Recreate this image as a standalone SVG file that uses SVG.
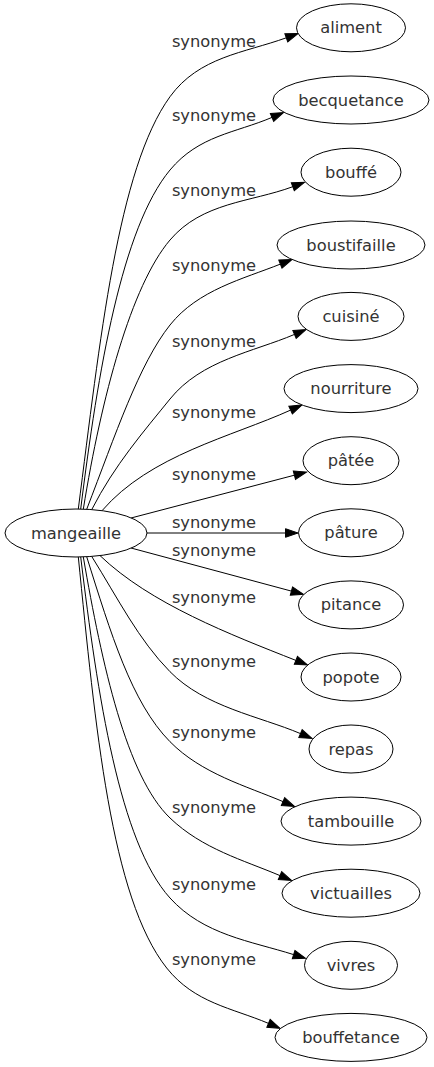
<svg xmlns="http://www.w3.org/2000/svg" width="434" height="1067" viewBox="0 0 434 1067">
<style>
  .node ellipse { fill: #ffffff; stroke: #000000; stroke-width: 1; }
  text { font-family: "DejaVu Sans", "Liberation Sans", sans-serif; font-size: 16.3px; fill: #333333; text-anchor: middle; }
  .edge path { fill: none; stroke: #000000; stroke-width: 1; marker-end: url(#arr); }
</style>
<defs>
  <marker id="arr" markerUnits="userSpaceOnUse" markerWidth="12.5" markerHeight="8.6" viewBox="0 0 12.5 8.6" refX="0" refY="4.3" orient="auto" overflow="visible">
    <path d="M0,0 L12.5,4.3 L0,8.6 z" fill="#000000" stroke="#000000" stroke-width="1"/>
  </marker>
</defs>
<rect width="434" height="1067" fill="#ffffff"/>
<g id="connectors">
  <g class="edge" id="e-aliment"><path d="M78.3,509 C100,340.4 117.8,168.7 170,96.7 C199,56.7 244,53 286.3,37.8"/><text x="214" y="46.5">synonyme</text></g>
  <g class="edge" id="e-becquetance"><path d="M80.7,509.1 C98,370 122,227.8 170,170 C198.8,135.4 235.2,133 272,117.4"/><text x="214" y="121">synonyme</text></g>
  <g class="edge" id="e-bouffe"><path d="M83.3,509.2 C101.5,396.5 131.3,285.6 170,240 C202.3,202 250.6,202.3 292.8,186.7"/><text x="214" y="195.5">synonyme</text></g>
  <g class="edge" id="e-boustifaille"><path d="M86.7,509.3 C115.5,434.6 139,364 170,325 C197.9,289.9 243.2,278.9 280.4,264.1"/><text x="214" y="271">synonyme</text></g>
  <g class="edge" id="e-cuisine"><path d="M91.7,509.7 C114.2,465.3 144.8,430.2 170,399 C201.5,360 253.1,352 294.5,334.4"/><text x="214" y="346.5">synonyme</text></g>
  <g class="edge" id="e-nourriture"><path d="M102,510.7 C150,455 231.5,436.8 290.6,410.1"/><text x="214" y="418">synonyme</text></g>
  <g class="edge" id="e-patee"><path d="M131,518 L294.4,475.2"/><text x="214" y="480">synonyme</text></g>
  <g class="edge" id="e-pature"><path d="M147,533 L285.5,533"/><text x="214" y="528">synonyme</text></g>
  <g class="edge" id="e-pitance"><path d="M131,548 L291.4,591.1"/><text x="214" y="555.5">synonyme</text></g>
  <g class="edge" id="e-popote"><path d="M100,555.6 C150.4,603.9 230.8,634.7 295.9,660.4"/><text x="214" y="603">synonyme</text></g>
  <g class="edge" id="e-repas"><path d="M91.7,556.4 C118.2,598.9 138.5,639.7 170,671.7 C205,707.2 259.1,716.1 300.5,733.6"/><text x="214" y="666.5">synonyme</text></g>
  <g class="edge" id="e-tambouille"><path d="M86.7,556.7 C110.7,633 131.5,702.7 170,741.7 C201.5,773.7 246.2,786 283,801.6"/><text x="214" y="738">synonyme</text></g>
  <g class="edge" id="e-victuailles"><path d="M83.3,556.9 C102,665.3 126.8,776.6 170,818 C202.4,849 243.2,860 280,875.6"/><text x="214" y="813">synonyme</text></g>
  <g class="edge" id="e-vivres"><path d="M80.7,556.9 C97.5,695.9 119.7,842.5 170,898 C203.5,935 250.9,941.1 293.6,954.6"/><text x="214" y="890">synonyme</text></g>
  <g class="edge" id="e-bouffetance"><path d="M78.3,556.9 C95.3,726.1 110.9,897.8 166.7,968 C194.6,1003.1 231.7,1007.8 268.5,1023.4"/><text x="214" y="965">synonyme</text></g>
</g>
<g id="nodes">
  <g class="node" id="n-mangeaille"><ellipse cx="76" cy="533" rx="71" ry="24"/><text x="76" y="538.5">mangeaille</text></g>
  <g class="node" id="n-aliment"><ellipse cx="351" cy="27.8" rx="54.5" ry="24"/><text x="351" y="33.3">aliment</text></g>
  <g class="node" id="n-becquetance"><ellipse cx="351" cy="100" rx="78" ry="24"/><text x="351" y="105.5">becquetance</text></g>
  <g class="node" id="n-bouffe"><ellipse cx="351" cy="172.2" rx="50" ry="24"/><text x="351" y="177.7">bouffé</text></g>
  <g class="node" id="n-boustifaille"><ellipse cx="351" cy="245" rx="74" ry="24"/><text x="351" y="250.5">boustifaille</text></g>
  <g class="node" id="n-cuisine"><ellipse cx="351" cy="316.4" rx="53" ry="24"/><text x="351" y="321.9">cuisiné</text></g>
  <g class="node" id="n-nourriture"><ellipse cx="351" cy="388.6" rx="67" ry="24"/><text x="351" y="394.1">nourriture</text></g>
  <g class="node" id="n-patee"><ellipse cx="351" cy="460.7" rx="48" ry="24"/><text x="351" y="466.2">pâtée</text></g>
  <g class="node" id="n-pature"><ellipse cx="351" cy="532.8" rx="52.5" ry="24"/><text x="351" y="538.3">pâture</text></g>
  <g class="node" id="n-pitance"><ellipse cx="351" cy="604.9" rx="52.5" ry="24"/><text x="351" y="610.4">pitance</text></g>
  <g class="node" id="n-popote"><ellipse cx="351" cy="677" rx="50" ry="24"/><text x="351" y="682.5">popote</text></g>
  <g class="node" id="n-repas"><ellipse cx="351" cy="749" rx="42" ry="24"/><text x="351" y="754.5">repas</text></g>
  <g class="node" id="n-tambouille"><ellipse cx="351" cy="821.1" rx="70" ry="24"/><text x="351" y="826.6">tambouille</text></g>
  <g class="node" id="n-victuailles"><ellipse cx="351" cy="893.2" rx="69" ry="24"/><text x="351" y="898.7">victuailles</text></g>
  <g class="node" id="n-vivres"><ellipse cx="351" cy="965.3" rx="46.5" ry="24"/><text x="351" y="970.8">vivres</text></g>
  <g class="node" id="n-bouffetance"><ellipse cx="351" cy="1037.4" rx="76" ry="24"/><text x="351" y="1042.9">bouffetance</text></g>
</g>
</svg>
